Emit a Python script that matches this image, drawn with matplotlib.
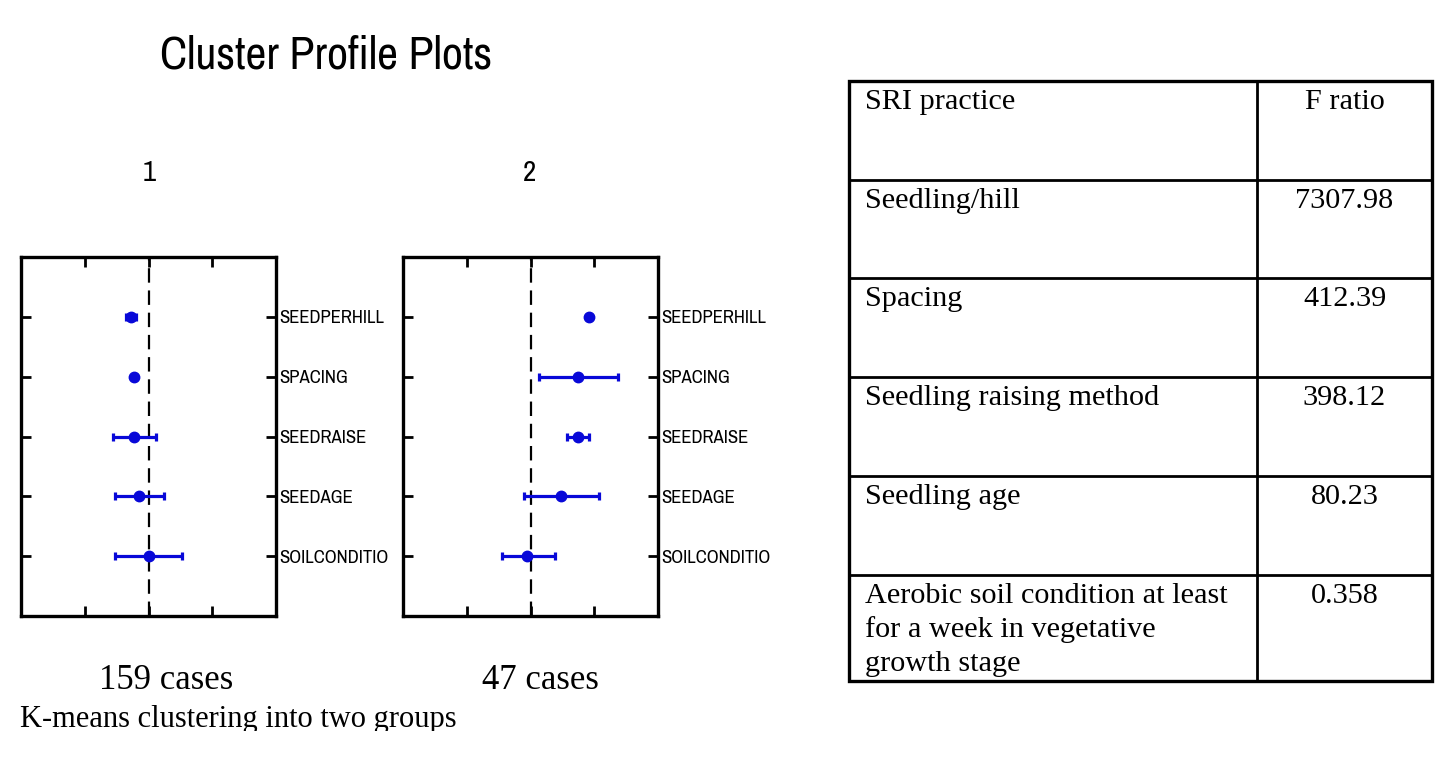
import matplotlib
matplotlib.use("Agg")
import matplotlib.pyplot as plt
from matplotlib.patches import Rectangle

# ---------------- data ----------------
categories = ['SEEDPERHILL', 'SPACING', 'SEEDRAISE', 'SEEDAGE', 'SOILCONDITIO']
cluster_ids = ['1', '2']
cluster_cases = ['159 cases', '47 cases']

c1_mean = [-0.27, -0.22, -0.22, -0.15, 0.01]
c1_lo = [-0.36, -0.24, -0.55, -0.52, -0.52]
c1_hi = [-0.19, -0.20, 0.11, 0.24, 0.53]

c2_mean = [0.91, 0.75, 0.74, 0.48, -0.05]
c2_lo = [0.88, 0.13, 0.58, -0.10, -0.45]
c2_hi = [0.94, 1.37, 0.92, 1.07, 0.38]

table_header = ['SRI practice', 'F ratio']
practices = ['Seedling/hill', 'Spacing', 'Seedling raising method', 'Seedling age',
             'Aerobic soil condition at least\nfor a week in vegetative\ngrowth stage']
f_ratios = ['7307.98', '412.39', '398.12', '80.23', '0.358']

# ---------------- figure ----------------
W, H = 1455, 765
fig = plt.figure(figsize=(W / 100, H / 100), dpi=100)
fig.patch.set_facecolor('white')

NARROW = ['Archivo Narrow', 'Liberation Sans', 'DejaVu Sans']
SERIF = ['Liberation Serif', 'DejaVu Serif']

# background axes in pixel coordinates
bg = fig.add_axes([0, 0, 1, 1], zorder=0)
bg.set_xlim(0, W)
bg.set_ylim(H, 0)
bg.axis('off')

blue = '#0808d8'


def panel(left_px, means, los, his):
    ax = fig.add_axes([left_px / W, (H - 616) / H, 255 / W, 359 / H], zorder=2)
    ypos = list(range(1, len(categories) + 1))
    xerr = [[m - l for m, l in zip(means, los)], [h - m for h, m in zip(his, means)]]
    ax.errorbar(means, ypos, xerr=xerr, fmt='o', color=blue, ecolor=blue,
                markersize=7.5, elinewidth=2.3, capsize=3, capthick=2.3, zorder=3)
    ax.axvline(0, color='black', lw=1.6, dashes=(6.5, 3.5), zorder=1)
    ax.set_xlim(-2, 2)
    ax.set_ylim(6, 0)
    ax.set_xticks([-1, 0, 1])
    ax.set_yticks(ypos)
    ax.set_yticklabels(categories, fontsize=13.5, family=NARROW)
    ax.tick_params(axis='x', which='both', top=True, bottom=True, direction='in',
                   length=7, width=2, labelbottom=False)
    ax.tick_params(axis='y', which='both', left=True, right=True, direction='in',
                   length=7, width=2, labelleft=False, labelright=True, pad=2)
    for s in ax.spines.values():
        s.set_linewidth(2.4)
    return ax


panel(21, c1_mean, c1_lo, c1_hi)
panel(403, c2_mean, c2_lo, c2_hi)

# titles and labels
bg.text(160, 68, 'Cluster Profile Plots', fontsize=33, family=NARROW, va='baseline', ha='left')
bg.text(149, 181, cluster_ids[0], fontsize=21, family=NARROW, va='baseline', ha='center')
bg.text(530, 181, cluster_ids[1], fontsize=21, family=NARROW, va='baseline', ha='center')
bg.text(166, 689, cluster_cases[0], fontsize=25, family=SERIF, va='baseline', ha='center')
bg.text(540, 689, cluster_cases[1], fontsize=25, family=SERIF, va='baseline', ha='center')
bg.text(20, 727, 'K-means clustering into two groups', fontsize=22, family=SERIF,
        va='baseline', ha='left')
# clip the bottom of the caption like the reference
bg.add_patch(Rectangle((0, 731), W, H - 731, facecolor='white', edgecolor='none', zorder=10))

# ---------------- table ----------------
tx0, tx1, tcol = 849, 1432, 1257
rows_y = [81, 180, 278, 377, 476, 575, 681]
bg.add_patch(Rectangle((tx0, rows_y[0]), tx1 - tx0, rows_y[-1] - rows_y[0],
                       facecolor='none', edgecolor='black', lw=2.4, zorder=5))
for y in rows_y[1:-1]:
    bg.plot([tx0, tx1], [y, y], color='black', lw=2.0, zorder=5)
bg.plot([tcol, tcol], [rows_y[0], rows_y[-1]], color='black', lw=2.0, zorder=5)

fs_t = 21.8
ccx = (tcol + tx1) / 2
bg.text(865, rows_y[0] + 28, table_header[0], fontsize=fs_t, family=SERIF, va='baseline', ha='left')
bg.text(ccx, rows_y[0] + 28, table_header[1], fontsize=fs_t, family=SERIF, va='baseline', ha='center')
for i, (p, f) in enumerate(zip(practices, f_ratios)):
    top = rows_y[i + 1]
    for j, line in enumerate(p.split('\n')):
        bg.text(865, top + 28 + j * 34, line, fontsize=fs_t, family=SERIF,
                va='baseline', ha='left')
    bg.text(ccx, top + 28, f, fontsize=fs_t, family=SERIF, va='baseline', ha='center')

fig.savefig('out.png', dpi=100, facecolor='white')
